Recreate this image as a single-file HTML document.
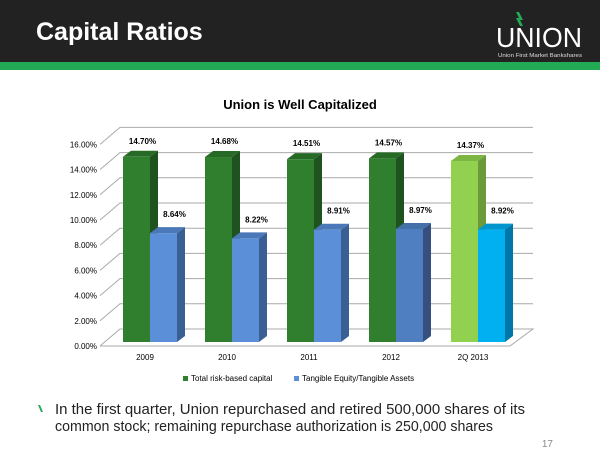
<!DOCTYPE html>
<html><head><meta charset="utf-8"><style>
body{margin:0;width:600px;height:464px;background:#fff;font-family:"Liberation Sans",sans-serif;overflow:hidden;position:relative}
.hdr{position:absolute;left:0;top:0;width:600px;height:62px;background:#222}
.stripe{position:absolute;left:0;top:62px;width:600px;height:8px;background:#22aa55}
</style></head><body>
<div class="hdr"></div><div class="stripe"></div>
<div style="position:absolute;left:36px;top:18px;color:#fff;font-weight:bold;font-size:25px">Capital Ratios</div>
<svg width="600" height="464" style="position:absolute;left:0;top:0" font-family="Liberation Sans, sans-serif">
<text x="496" y="47" fill="#fff" font-size="28" textLength="86" lengthAdjust="spacingAndGlyphs">UNION</text>
<text x="498" y="57" fill="#ddd" font-size="5.5" textLength="84" lengthAdjust="spacingAndGlyphs">Union First Market Bankshares</text>
<polygon points="516,12 519,12 523,20 520,20" fill="#22aa55"/>
<polygon points="516,18 519,18 523,26 520,26" fill="#22aa55"/>
<text x="300" y="109" text-anchor="middle" font-size="13" font-weight="bold">Union is Well Capitalized</text>
<g stroke="#aaa" stroke-width="1" fill="none">
<polyline points="100,346 120,329 533,329 510,346 100,346"/>
<g id="g"></g>
</g>
<g font-size="8" fill="#000" text-anchor="end" id="ax"></g>
<g id="bars"></g>
<g font-size="8" text-anchor="middle" id="cats"></g>
<rect x="183" y="376" width="5" height="5" fill="#2f7f2f"/><text x="191" y="381" font-size="8">Total risk-based capital</text>
<rect x="294" y="376" width="5" height="5" fill="#5b8fd8"/><text x="302" y="381" font-size="8">Tangible Equity/Tangible Assets</text>
<polygon points="38,405 40,405 43,412 41,412" fill="#22aa55"/>
<text x="55" y="414" font-size="14.5" fill="#222" textLength="470" lengthAdjust="spacingAndGlyphs">In the first quarter, Union repurchased and retired 500,000 shares of its</text>
<text x="55" y="431" font-size="14.5" fill="#222" textLength="438" lengthAdjust="spacingAndGlyphs">common stock; remaining repurchase authorization is 250,000 shares</text>
<text x="553" y="447" font-size="10" fill="#888" text-anchor="end">17</text>
</svg>
<script>
var ns="http://www.w3.org/2000/svg";
function el(p,t,a,txt){var e=document.createElementNS(ns,t);for(var k in a)e.setAttribute(k,a[k]);if(txt)e.textContent=txt;document.getElementById(p).appendChild(e);}
for(var v=0;v<=16;v+=2){var yf=346-v*12.6,yb=329-v*12.6;
 if(v>0)el("g","polyline",{points:"100,"+yf+" 120,"+yb+" 533,"+yb});
 el("ax","text",{x:97,y:yf+3},v.toFixed(2)+"%");}
var G=[14.70,14.68,14.51,14.57,14.37],B=[8.64,8.22,8.91,8.97,8.92],C=["2009","2010","2011","2012","2Q 2013"];
var gc=[["#2f7f2f","#1e521e","#266a26"],["#2f7f2f","#1e521e","#266a26"],["#2f7f2f","#1e521e","#266a26"],["#2f7f2f","#1e521e","#266a26"],["#92d050","#6a9a3a","#7db542"]];
var bc=[["#5b8fd8","#3a5f95","#4a78b8"],["#5b8fd8","#3a5f95","#4a78b8"],["#5b8fd8","#3a5f95","#4a78b8"],["#4f7fc0","#354f80","#4470aa"],["#00b0f0","#0077a8","#0095cc"]];
function bar(x,v,c,lbl,dxl,dyl){var b=342,t=b-v*12.6,w=27,dx=8,dy=6;
 el("bars","polygon",{points:(x+w)+","+t+" "+(x+w+dx)+","+(t-dy)+" "+(x+w+dx)+","+(b-dy)+" "+(x+w)+","+b,fill:c[1]});
 el("bars","polygon",{points:x+","+t+" "+(x+dx)+","+(t-dy)+" "+(x+w+dx)+","+(t-dy)+" "+(x+w)+","+t,fill:c[2]});
 el("bars","rect",{x:x,y:t,width:w,height:b-t,fill:c[0]});
 el("bars","text",{x:x+w/2+dxl,y:t-dyl,"font-size":8,"font-weight":"bold","text-anchor":"middle"},lbl);}
for(var i=0;i<5;i++){var x=123+82*i;bar(x,G[i],gc[i],G[i].toFixed(2)+"%",6,13);bar(x+27,B[i],bc[i],B[i].toFixed(2)+"%",11,16);
 el("cats","text",{x:x+22,y:360},C[i]);}
</script>
</body></html>
